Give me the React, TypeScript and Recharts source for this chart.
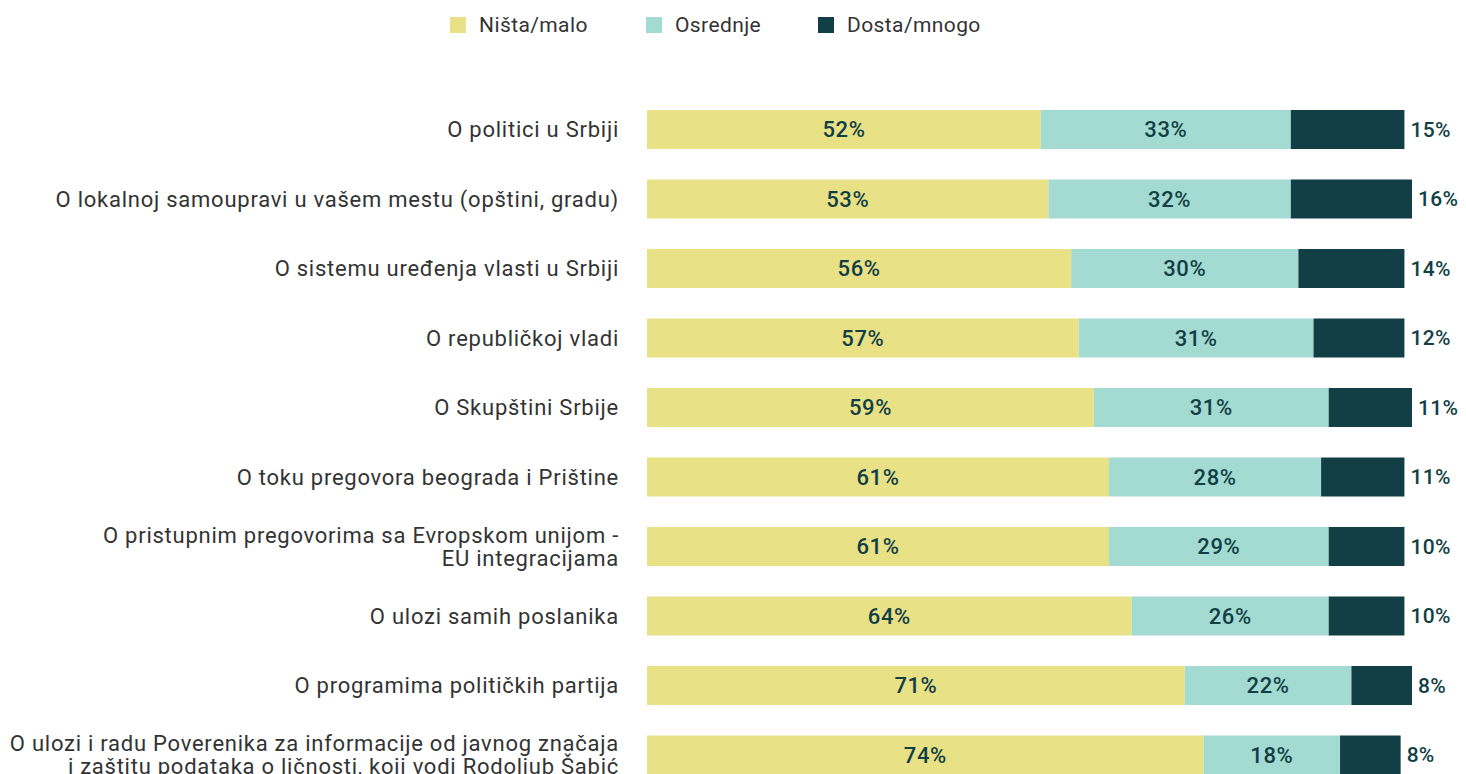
import { BarChart, Bar, XAxis, YAxis, Legend, LabelList } from "recharts";

const categories = [
  "O politici u Srbiji",
  "O lokalnoj samoupravi u vašem mestu (opštini, gradu)",
  "O sistemu uređenja vlasti u Srbiji",
  "O republičkoj vladi",
  "O Skupštini Srbije",
  "O toku pregovora beograda i Prištine",
  "O pristupnim pregovorima sa Evropskom unijom -\nEU integracijama",
  "O ulozi samih poslanika",
  "O programima političkih partija",
  "O ulozi i radu Poverenika za informacije od javnog značaja\ni zaštitu podataka o ličnosti, koji vodi Rodoljub Šabić",
];

const nistaMalo = [52, 53, 56, 57, 59, 61, 61, 64, 71, 73.5];
const osrednje = [33, 32, 30, 31, 31, 28, 29, 26, 22, 18];
const dostaMnogo = [15, 16, 14, 12, 11, 11, 10, 10, 8, 8];

const seriesNames = ["Ništa/malo", "Osrednje", "Dosta/mnogo"];
const colors = ["#e9e186", "#a3dad2", "#113f45"];

const data = categories.map((name, i) => ({
  name,
  nista: nistaMalo[i],
  osrednje: osrednje[i],
  dosta: dostaMnogo[i],
}));

const FONT = "Roboto, 'DejaVu Sans', sans-serif";
const pct = (v: any) => `${Math.round(Number(v))}%`;

const CategoryTick = (props: any) => {
  const { x, y, payload } = props;
  const lines = String(payload.value).split("\n");
  const lineH = 23;
  const startDy = -((lines.length - 1) * lineH) / 2;
  return (
    <text
      x={x}
      y={y}
      textAnchor="end"
      fill="#333333"
      fontSize={22}
      fontFamily={FONT}
      style={{ letterSpacing: "0.75px" }}
    >
      {lines.map((l, i) => (
        <tspan key={i} x={x} dy={i === 0 ? startDy + 7.5 : lineH}>
          {l}
        </tspan>
      ))}
    </text>
  );
};

// legend item x positions, chart coordinates
const legendX = [442, 638, 810];

const LegendContent = () => (
  <div style={{ position: "relative", height: 40, width: "100%" }}>
    {seriesNames.map((n, i) => (
      <div
        key={n}
        style={{
          position: "absolute",
          left: legendX[i],
          top: 5,
          display: "flex",
          alignItems: "center",
          fontFamily: FONT,
          fontSize: 21,
          letterSpacing: 0.4,
          color: "#333333",
        }}
      >
        <span style={{ width: 16, height: 16, background: colors[i], display: "inline-block", marginRight: 13 }} />
        <span>{n}</span>
      </div>
    ))}
  </div>
);

const labelStyle = { letterSpacing: "0.6px" };
const outsideStyle = { letterSpacing: "0.3px" };

export default function App() {
  return (
    <div style={{ width: 1458, height: 766, overflow: "hidden" }}>
      <BarChart
        width={1458}
        height={800}
        data={data}
        layout="vertical"
        margin={{ top: 47, right: 54, bottom: 18, left: 0 }}
      >
        <Legend verticalAlign="top" content={<LegendContent />} wrapperStyle={{ top: 0, left: 0, width: 1458 }} />
        <XAxis type="number" domain={[0, 101]} hide />
        <YAxis
          type="category"
          dataKey="name"
          width={639}
          axisLine={false}
          tickLine={false}
          tickSize={0}
          tickMargin={28}
          interval={0}
          tick={<CategoryTick />}
        />
        <Bar dataKey="nista" stackId="a" fill={colors[0]} barSize={39} name={seriesNames[0]} isAnimationActive={false}>
          <LabelList dataKey="nista" position="center" formatter={pct} fill="#113f45" fontSize={22} fontWeight={500} fontFamily={FONT} style={labelStyle} />
        </Bar>
        <Bar dataKey="osrednje" stackId="a" fill={colors[1]} barSize={39} name={seriesNames[1]} isAnimationActive={false}>
          <LabelList dataKey="osrednje" position="center" formatter={pct} fill="#113f45" fontSize={22} fontWeight={500} fontFamily={FONT} style={labelStyle} />
        </Bar>
        <Bar dataKey="dosta" stackId="a" fill={colors[2]} barSize={39} name={seriesNames[2]} isAnimationActive={false}>
          <LabelList dataKey="dosta" position="right" offset={6} formatter={pct} fill="#113f45" fontSize={21} fontWeight={500} fontFamily={FONT} style={outsideStyle} />
        </Bar>
      </BarChart>
    </div>
  );
}
